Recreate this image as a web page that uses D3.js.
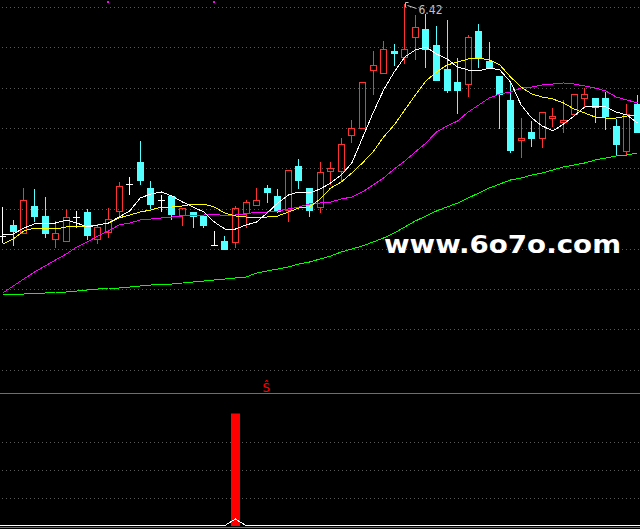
<!DOCTYPE html>
<html>
<head>
<meta charset="utf-8">
<script src="https://cdn.jsdelivr.net/npm/d3@7"></script>
<style>
body{margin:0;background:#000;}
svg{display:block;background:#000;}
</style>
</head>
<body>
<svg id="chart" width="640" height="529"></svg>
<script>
// daily K-line data
var opens = [4.09,4.20,4.12,4.39,4.29,4.06,4.04,4.28,4.33,4.06, 4.13,4.34,4.61,4.83,4.57,4.45,4.49,4.30,4.33,4.29,
  4.00,4.04,4.03,4.32,4.40,4.57,4.49,4.35,4.79,4.57, 4.38,4.74,4.74,5.10,5.17,5.75,5.72,5.94,5.88,6.08,
  6.16,6.00,5.76,5.63,5.61,6.14,5.84,5.69,5.45,5.05, 5.13,5.07,5.27,5.23,5.31,5.47,5.47,5.47,5.19,4.94, 5.41];
var highs = [4.39,4.26,4.58,4.57,4.49,4.25,4.36,4.35,4.37,4.22, 4.38,4.64,4.69,5.05,4.65,4.51,4.51,4.37,4.33,4.31,
  4.15,4.10,4.40,4.46,4.58,4.61,4.57,4.75,4.87,4.57, 4.84,4.84,5.08,5.26,5.63,5.95,6.05,6.02,6.42,6.31,
  6.32,6.20,6.26,5.88,6.11,6.22,6.04,5.69,5.65,5.28, 5.25,5.34,5.38,5.46,5.51,5.58,5.47,5.54,5.27,5.42, 5.51];
var lows = [4.03,4.00,4.12,4.24,4.08,3.98,4.04,4.18,4.06,4.02, 4.08,4.30,4.51,4.61,4.37,4.34,4.26,4.20,4.18,4.18,
  4.00,3.96,3.98,4.18,4.40,4.43,4.33,4.24,4.57,4.29, 4.33,4.61,4.65,5.03,5.17,5.51,5.72,5.80,5.82,5.86,
  5.78,5.65,5.53,5.32,5.49,5.78,5.78,5.17,4.93,4.88, 4.99,4.98,5.19,5.13,5.31,5.38,5.23,5.16,4.91,4.91, 5.13];
var closes = [4.09,4.14,4.45,4.29,4.12,4.12,4.28,4.28,4.10,4.18, 4.26,4.59,4.61,4.65,4.41,4.45,4.31,4.37,4.29,4.20,
  4.00,3.96,4.37,4.43,4.45,4.53,4.34,4.75,4.65,4.35, 4.73,4.77,5.01,5.17,5.63,5.80,5.96,5.92,5.96,6.18,
  5.96,5.65,5.55,5.55,6.08,5.88,5.78,5.51,4.95,5.07, 5.07,5.33,5.29,5.25,5.51,5.51,5.38,5.29,5.01,5.31, 5.13];

// moving averages (white, yellow, magenta, green)
var ma5 = [4.10,4.11,4.17,4.21,4.22,4.22,4.25,4.22,4.18,4.20, 4.22,4.28,4.34,4.47,4.51,4.53,4.49,4.43,4.38,4.33,
  4.23,4.16,4.16,4.20,4.23,4.32,4.42,4.50,4.53,4.52, 4.56,4.62,4.70,4.82,5.07,5.32,5.55,5.73,5.88,5.95,
  5.98,5.91,5.86,5.78,5.75,5.74,5.77,5.75,5.63,5.40, 5.27,5.19,5.14,5.21,5.29,5.38,5.39,5.38,5.33,5.30, 5.22];
var ma10 = [4.01,4.06,4.14,4.17,4.17,4.16,4.18,4.19,4.19,4.20, 4.22,4.27,4.30,4.33,4.35,4.38,4.38,4.39,4.41,4.41,
  4.38,4.32,4.29,4.28,4.28,4.28,4.29,4.33,4.37,4.38, 4.46,4.57,4.63,4.72,4.82,4.93,5.08,5.20,5.35,5.50,
  5.64,5.73,5.80,5.83,5.86,5.87,5.85,5.80,5.68,5.58, 5.51,5.48,5.46,5.42,5.36,5.32,5.28,5.27,5.27,5.29, 5.30];
var ma20 = [3.52,3.59,3.66,3.73,3.79,3.85,3.91,3.98,4.03,4.09, 4.14,4.20,4.22,4.25,4.26,4.27,4.28,4.29,4.30,4.30,
  4.31,4.29,4.30,4.31,4.33,4.33,4.34,4.36,4.38,4.41, 4.42,4.43,4.46,4.48,4.53,4.60,4.67,4.76,4.84,4.93,
  5.02,5.13,5.19,5.24,5.33,5.40,5.47,5.51,5.53,5.57, 5.58,5.60,5.61,5.62,5.61,5.59,5.57,5.54,5.48,5.45, 5.42];
var ma60 = [3.50,3.51,3.51,3.52,3.52,3.53,3.53,3.54,3.55,3.56, 3.57,3.57,3.58,3.59,3.60,3.61,3.61,3.62,3.63,3.64,
  3.65,3.66,3.67,3.68,3.72,3.74,3.76,3.78,3.81,3.83, 3.86,3.89,3.93,3.96,3.99,4.03,4.07,4.12,4.18,4.24,
  4.29,4.34,4.38,4.42,4.47,4.52,4.57,4.61,4.65,4.67, 4.70,4.72,4.75,4.78,4.80,4.82,4.85,4.87,4.89,4.90, 4.92];

// lower indicator panel
var signalIdx = [22];
var signalVal = [4];
var signalLine = [0,0,0,0,0,0,0,0,0,0, 0,0,0,0,0,0,0,0,0,0, 0,0,0.23,0,0,0,0,0,0,0,
  0,0,0,0,0,0,0,0,0,0, 0,0,0,0,0,0,0,0,0,0, 0,0,0,0,0,0,0,0,0,0, 0];
var topMarks = [10, 20];
var highIdx = 38;
var highText = "6.42";
var signalText = "Ŝ";
var signalTextIdx = 25;
var watermark = "www.6o7o.com";

var svg = d3.select("#chart");
var W = 640;

var x = d3.scaleLinear().domain([0, opens.length - 1]).range([2.7, 637.5]);
var y = d3.scaleLinear().domain([3.45, 6.45]).range([300, 0]);
var ySub = d3.scaleLinear().domain([0, 4]).range([525.5, 413.5]);

var px = function(i){ return Math.floor(x(i)) + 0.5; };
var py = function(v){ return Math.round(y(v)) + 0.5; };

// grid
var grid = svg.append("g").attr("shape-rendering", "crispEdges");
d3.range(10).forEach(function(k){
  var gy = Math.round(7 + k * 40.3) + 0.5;
  grid.append("line").attr("x1", 2).attr("x2", W).attr("y1", gy).attr("y2", gy)
    .attr("stroke", "#5a5a5a").attr("stroke-dasharray", "1,3");
});
[1, 2, 3].forEach(function(v){
  var gy = Math.round(ySub(v)) + 0.5;
  grid.append("line").attr("x1", 2).attr("x2", W).attr("y1", gy).attr("y2", gy)
    .attr("stroke", "#5a5a5a").attr("stroke-dasharray", "1,3");
});
grid.append("line").attr("x1", 0).attr("x2", W).attr("y1", 393.5).attr("y2", 393.5).attr("stroke", "#6e6e6e");
grid.append("line").attr("x1", 0).attr("x2", W).attr("y1", 527.5).attr("y2", 527.5).attr("stroke", "#6e6e6e");

// watermark
svg.append("text").attr("x", 384).attr("y", 253)
  .attr("font-family", "DejaVu Sans").attr("font-weight", "bold").attr("font-size", 24)
  .attr("textLength", 237).attr("lengthAdjust", "spacingAndGlyphs")
  .attr("fill", "#ffffff").text(watermark);

// candles
var g = svg.append("g").attr("shape-rendering", "crispEdges");
d3.range(opens.length).forEach(function(i){
  var o = opens[i], c = closes[i], h = highs[i], l = lows[i];
  var cx = px(i);
  var top = py(Math.max(o, c)), bot = py(Math.min(o, c));
  if (c > o) {
    var col = "#ff3232";
    if (py(h) < top) g.append("line").attr("x1", cx).attr("x2", cx).attr("y1", py(h)).attr("y2", top).attr("stroke", col);
    if (py(l) > bot) g.append("line").attr("x1", cx).attr("x2", cx).attr("y1", bot).attr("y2", py(l)).attr("stroke", col);
    g.append("rect").attr("x", cx - 3).attr("y", top).attr("width", 6).attr("height", Math.max(1, bot - top))
      .attr("fill", "none").attr("stroke", col);
  } else if (c < o) {
    var col2 = "#54ffff";
    g.append("line").attr("x1", cx).attr("x2", cx).attr("y1", py(h)).attr("y2", py(l) + 0.5).attr("stroke", col2);
    g.append("rect").attr("x", cx - 3.5).attr("y", top - 0.5).attr("width", 7).attr("height", Math.max(1, bot - top + 1))
      .attr("fill", col2);
  } else {
    g.append("line").attr("x1", cx).attr("x2", cx).attr("y1", py(h)).attr("y2", py(l)).attr("stroke", "#ffffff");
    g.append("line").attr("x1", cx - 3.5).attr("x2", cx + 3.5).attr("y1", top).attr("y2", top).attr("stroke", "#ffffff");
  }
});

// moving average lines
var line = d3.line().x(function(d, i){ return x(i); }).y(function(d){ return y(d); });
[[ma60, "#00ff00"], [ma20, "#ff00ff"], [ma10, "#ffff00"], [ma5, "#ffffff"]].forEach(function(s){
  svg.append("path").datum(s[0]).attr("d", line).attr("fill", "none")
    .attr("stroke", s[1]).attr("stroke-width", 1).attr("shape-rendering", "crispEdges");
});

// top signal dots
topMarks.forEach(function(i){
  svg.append("rect").attr("x", Math.floor(x(i)) - 1).attr("y", 1).attr("width", 2).attr("height", 2).attr("fill", "#ff00ff");
});

// highest price label
var hx = px(highIdx), hy = py(highs[highIdx]);
var lab = svg.append("g").attr("stroke", "#c0c0c0").attr("fill", "none");
lab.append("path").attr("d", "M" + (hx + 1) + "," + (hy + 4) + "V" + (hy - 1) + "H" + (hx + 4));
lab.append("path").attr("d", "M" + (hx + 3) + "," + (hy + 2) + "L" + (hx + 12) + "," + (hy + 5));
svg.append("text").attr("x", hx + 14).attr("y", hy + 10.5)
  .attr("font-family", "DejaVu Sans").attr("font-size", 13)
  .attr("textLength", 24).attr("lengthAdjust", "spacingAndGlyphs")
  .attr("fill", "#c0c0c0").text(highText);

// lower panel: signal bar and line
signalIdx.forEach(function(i, k){
  svg.append("rect").attr("x", Math.floor(x(i)) - 4).attr("y", ySub(signalVal[k]))
    .attr("width", 9).attr("height", ySub(0) - ySub(signalVal[k]) + 0.5).attr("fill", "#ff0000");
});
var subLine = d3.line().x(function(d, i){ return i === 0 ? 0 : (i === signalLine.length - 1 ? W : x(i)); }).y(function(d){ return ySub(d); });
svg.append("path").datum(signalLine).attr("d", subLine).attr("fill", "none")
  .attr("stroke", "#ffffff").attr("shape-rendering", "crispEdges");

svg.append("text").attr("x", x(signalTextIdx) - 1).attr("y", 392)
  .attr("text-anchor", "middle").attr("font-family", "DejaVu Sans").attr("font-size", 12)
  .attr("fill", "#ff0000").text(signalText);
</script>
</body>
</html>
